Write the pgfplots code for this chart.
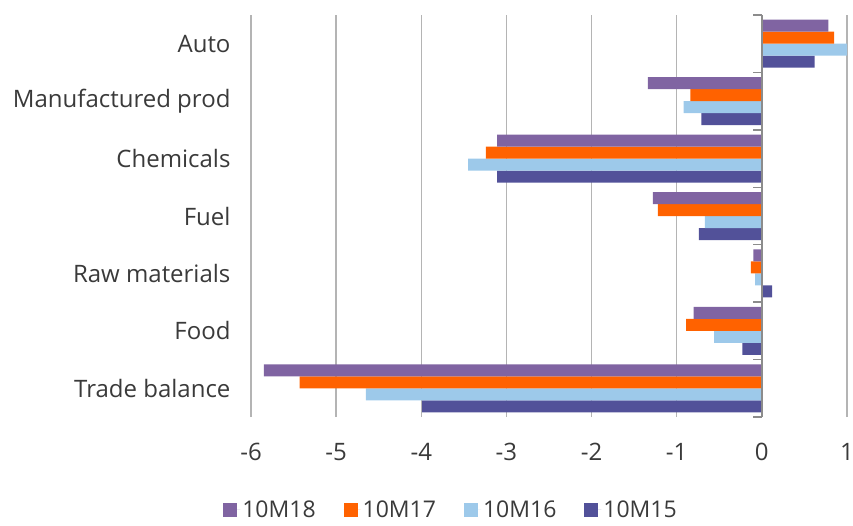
\documentclass[border=0pt]{standalone}
\usepackage{pgfplots}
\pgfplotsset{compat=1.18}
\usepackage{fontspec}
\setmainfont{Open Sans}
\definecolor{c18}{HTML}{8064A2}
\definecolor{c17}{HTML}{FF6200}
\definecolor{c16}{HTML}{9DC9EA}
\definecolor{c15}{HTML}{525199}
\definecolor{txt}{HTML}{3A3A3A}
\definecolor{grd}{HTML}{B4B4B4}
\definecolor{axc}{HTML}{8C8C8C}
\begin{document}
\begin{tikzpicture}
\path[use as bounding box] (-251pt,-108pt) rectangle (602pt,417pt);
\begin{axis}[
  scale only axis, width=596pt, height=402pt,
  xmin=-6, xmax=1, ymin=-0.5, ymax=6.5,
  xbar=0pt, bar width=12pt,
  axis line style={draw=none},
  xtick={-6,-5,-4,-3,-2,-1,0,1},
  ytick={0,1,2,3,4,5,6},
  yticklabels={Trade balance,Food,Raw materials,Fuel,Chemicals,Manufactured prod,Auto},
  xmajorgrids, grid style={grd, line width=1.3pt},
  major tick length=0pt,
  tick label style={font=\fontsize{24}{28}\selectfont, text=txt},
  xticklabel style={yshift=-23pt},
  yticklabel style={xshift=-17pt},
  /pgf/number format/assume math mode=true,
  reverse legend,
  legend columns=4,
  legend style={draw=none, at={(0.3356,-0.231)}, anchor=center,
    font=\fontsize{23}{26}\selectfont, text=txt,
    /tikz/every even column/.append style={column sep=26pt}},
  legend image code/.code={\fill[#1] (0pt,-7pt) rectangle (14pt,7pt);\path (0pt,0pt) -- (17pt,0pt);},
  clip=false,
]
\addplot[fill=c15, draw=none] coordinates {(-3.99,0) (-0.23,1) (0.12,2) (-0.74,3) (-3.11,4) (-0.71,5) (0.62,6)};
\addplot[fill=c16, draw=none] coordinates {(-4.65,0) (-0.56,1) (-0.08,2) (-0.67,3) (-3.45,4) (-0.92,5) (1.00,6)};
\addplot[fill=c17, draw=none] coordinates {(-5.43,0) (-0.89,1) (-0.13,2) (-1.22,3) (-3.24,4) (-0.84,5) (0.85,6)};
\addplot[fill=c18, draw=none] coordinates {(-5.85,0) (-0.80,1) (-0.10,2) (-1.28,3) (-3.11,4) (-1.34,5) (0.78,6)};
\legend{10M15,10M16,10M17,10M18}
\draw[axc, line width=1.3pt] (axis cs:0,-0.5) -- (axis cs:0,6.5);
\pgfplotsinvokeforeach{-0.5,0.5,1.5,2.5,3.5,4.5,5.5,6.5}{
  \draw[axc, line width=1.3pt] (axis cs:0,#1) -- ++(-9pt,0pt);
}
\end{axis}
\end{tikzpicture}
\end{document}
